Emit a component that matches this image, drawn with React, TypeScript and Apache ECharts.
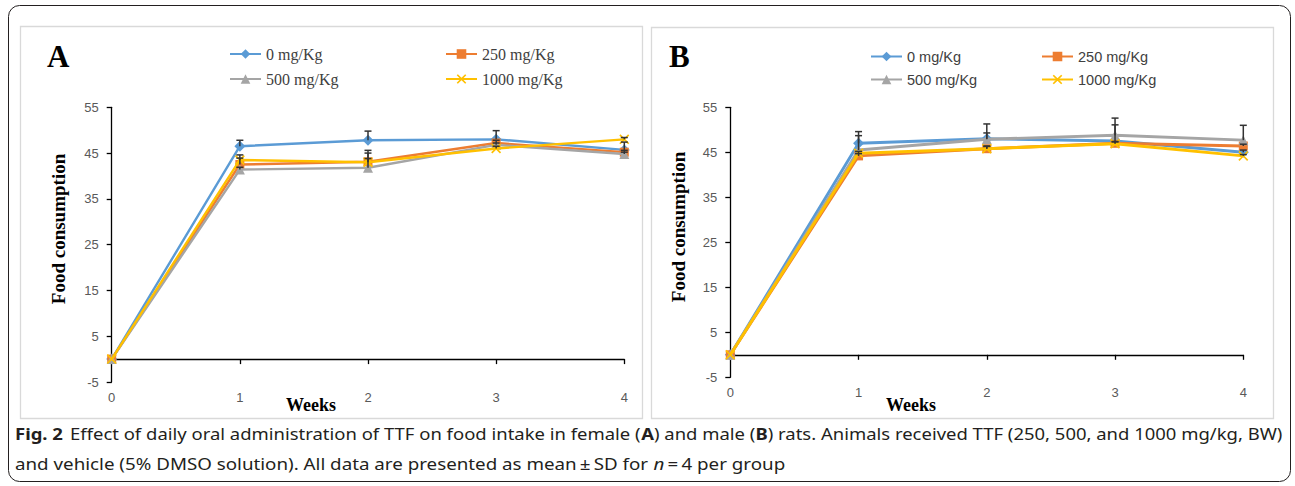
import React, { useEffect, useRef } from "react";
import * as echarts from "echarts";

// ---- data ----
const weeks = [0, 1, 2, 3, 4];
const seriesNames = ["0 mg/Kg", "250 mg/Kg", "500 mg/Kg", "1000 mg/Kg"];
const seriesColors = ["#5B9BD5", "#ED7D31", "#A5A5A5", "#FFC000"];
const yTicks = { min: -5, max: 55, interval: 10 };

// Panel A (female)
const femaleDose0 = [0, 46.5, 47.8, 48.0, 45.7];
const femaleDose250 = [0, 42.5, 43.1, 47.2, 45.2];
const femaleDose500 = [0, 41.4, 41.8, 46.8, 44.8];
const femaleDose1000 = [0, 43.5, 43.0, 46.0, 48.0];
const femaleSd0 = [0, 1.3, 2.0, 1.9, 1.7];
const femaleSd250 = [0, 2.1, 2.5, 0.6, 0.4];
const femaleSd500 = [0, 0.5, 3.2, 0.4, 0.4];
const femaleSd1000 = [0, 0.4, 0.8, 0.5, 0.4];

// Panel B (male)
const maleDose0 = [0, 47.0, 48.0, 47.5, 45.0];
const maleDose250 = [0, 44.2, 45.8, 47.0, 46.4];
const maleDose500 = [0, 45.5, 47.9, 48.8, 47.7];
const maleDose1000 = [0, 44.8, 45.8, 46.9, 44.2];
const maleSd0 = [0, 2.6, 3.3, 3.6, 0.5];
const maleSd250 = [0, 0.5, 0.6, 0.4, 0.4];
const maleSd500 = [0, 3.2, 1.4, 3.8, 3.3];
const maleSd1000 = [0, 0.4, 0.5, 0.4, 0.3];

const femaleValues = [femaleDose0, femaleDose250, femaleDose500, femaleDose1000];
const femaleSds = [femaleSd0, femaleSd250, femaleSd500, femaleSd1000];
const maleValues = [maleDose0, maleDose250, maleDose500, maleDose1000];
const maleSds = [maleSd0, maleSd250, maleSd500, maleSd1000];

const captionLine1 = [
  { t: "Effect of daily oral administration of TTF on food intake in female (", s: "n" },
  { t: "A", s: "b" },
  { t: ") and male (", s: "n" },
  { t: "B", s: "b" },
  { t: ") rats. Animals received TTF (250, 500, and 1000 mg/kg, BW)", s: "n" },
];
const captionLine2 = [
  { t: "and vehicle (5% DMSO solution). All data are presented as mean\u2009\u00b1\u2009SD for ", s: "n" },
  { t: "n", s: "i" },
  { t: "\u2009=\u20094 per group", s: "n" },
];

const W = 1295;
const H = 486;
const CAP_FONT = "'Noto Sans', 'Open Sans', sans-serif";
const CAP_SIZE = 16.5;

const xSymbol =
  "path://M0,1.2 L1.2,0 L5,3.8 L8.8,0 L10,1.2 L6.2,5 L10,8.8 L8.8,10 L5,6.2 L1.2,10 L0,8.8 L3.8,5 Z";
const symbols = ["diamond", "rect", "triangle", xSymbol];
const symbolSizes = [11, 9, 10, 10];

function measure(segs: { t: string; s: string }[]) {
  const ctx = document.createElement("canvas").getContext("2d");
  if (!ctx) return 1;
  let w = 0;
  for (const seg of segs) {
    const style = seg.s === "b" ? "bold " : seg.s === "i" ? "italic " : "";
    ctx.font = `${style}${CAP_SIZE}px ${CAP_FONT}`;
    w += ctx.measureText(seg.t).width;
  }
  return w;
}

function richText(segs: { t: string; s: string }[]) {
  return segs.map((seg) => `{${seg.s}|${seg.t}}`).join("");
}

const richStyles = {
  n: { fontFamily: CAP_FONT, fontSize: CAP_SIZE, color: "#231f20" },
  b: { fontFamily: CAP_FONT, fontSize: CAP_SIZE, fontWeight: "bold", color: "#231f20" },
  i: { fontFamily: CAP_FONT, fontSize: CAP_SIZE, fontStyle: "italic", color: "#231f20" },
};

export default function App() {
  const ref = useRef<HTMLDivElement>(null);

  useEffect(() => {
    document.body.style.margin = "0";
    if (!ref.current) return;
    const chart = echarts.init(ref.current, undefined, { renderer: "svg", width: W, height: H });

    const grids = [
      { left: 111.7, top: 107.3, width: 512.6, height: 274.7 },
      { left: 730.3, top: 107.3, width: 513, height: 270 },
    ];

    const axisLineStyle = { color: "#000000", width: 1.3 };
    const tickLabel = { color: "#595959", fontSize: 13, fontFamily: "'Liberation Sans', Arial, sans-serif" };

    const xBase = {
      type: "value",
      min: 0,
      max: 4,
      interval: 1,
      splitLine: { show: false },
    };

    const xAxes = [
      {
        ...xBase,
        gridIndex: 0,
        axisLine: { show: true, onZero: true, lineStyle: axisLineStyle },
        axisTick: { show: true, inside: false, length: 5, lineStyle: axisLineStyle },
        axisLabel: { show: false },
      },
      {
        ...xBase,
        gridIndex: 0,
        position: "bottom",
        axisLine: { show: false, onZero: false },
        axisTick: { show: false },
        axisLabel: { show: true, margin: 9, ...tickLabel },
      },
      {
        ...xBase,
        gridIndex: 1,
        axisLine: { show: true, onZero: true, lineStyle: axisLineStyle },
        axisTick: { show: true, inside: false, length: 5, lineStyle: axisLineStyle },
        axisLabel: { show: true, margin: 9, ...tickLabel },
      },
    ];

    const yAxes = [0, 1].map((g) => ({
      type: "value",
      gridIndex: g,
      min: yTicks.min,
      max: yTicks.max,
      interval: yTicks.interval,
      splitLine: { show: false },
      axisLine: { show: true, lineStyle: axisLineStyle },
      axisTick: { show: true, inside: false, length: 5, lineStyle: axisLineStyle },
      axisLabel: { show: true, margin: 13, ...tickLabel },
    }));

    const series: any[] = [];
    const panels = [
      { values: femaleValues, sds: femaleSds, xAxisIndex: 0, yAxisIndex: 0, lw: 2.4 },
      { values: maleValues, sds: maleSds, xAxisIndex: 2, yAxisIndex: 1, lw: 2.9 },
    ];
    panels.forEach((p) => {
      p.values.forEach((vals, i) => {
        series.push({
          type: "line",
          name: seriesNames[i],
          xAxisIndex: p.xAxisIndex,
          yAxisIndex: p.yAxisIndex,
          data: weeks.map((w, k) => [w, vals[k]]),
          symbol: symbols[i],
          symbolSize: symbolSizes[i],
          showAllSymbol: true,
          color: seriesColors[i],
          itemStyle: { color: seriesColors[i] },
          lineStyle: { color: seriesColors[i], width: p.lw },
          z: 2 + i * 0.01,
        });
      });
      const errData: number[][] = [];
      p.values.forEach((vals, i) => {
        weeks.forEach((w, k) => {
          if (p.sds[i][k] > 0) errData.push([w, vals[k], p.sds[i][k]]);
        });
      });
      series.push({
        type: "custom",
        name: "sd",
        xAxisIndex: p.xAxisIndex,
        yAxisIndex: p.yAxisIndex,
        data: errData,
        encode: { x: 0, y: 1 },
        z: 5,
        silent: true,
        renderItem: (params: any, api: any) => {
          const x = api.value(0);
          const y = api.value(1);
          const e = api.value(2);
          const p0 = api.coord([x, y]);
          const p1 = api.coord([x, y + e]);
          const st = { stroke: "#333333", lineWidth: 1.5 };
          return {
            type: "group",
            children: [
              { type: "line", shape: { x1: p0[0], y1: p0[1], x2: p1[0], y2: p1[1] }, style: st },
              { type: "line", shape: { x1: p1[0] - 3.5, y1: p1[1], x2: p1[0] + 3.5, y2: p1[1] }, style: st },
            ],
          };
        },
      });
    });

    const legendPos = [
      // panel A
      { left: 229, top: 46, idx: 0, panel: 0 },
      { left: 445, top: 46, idx: 1, panel: 0 },
      { left: 229, top: 71, idx: 2, panel: 0 },
      { left: 445, top: 71, idx: 3, panel: 0 },
      // panel B
      { left: 870, top: 49, idx: 0, panel: 1 },
      { left: 1041, top: 49, idx: 1, panel: 1 },
      { left: 870, top: 72, idx: 2, panel: 1 },
      { left: 1041, top: 72, idx: 3, panel: 1 },
    ];
    const legends = legendPos.map((l) => ({
      show: true,
      data: [seriesNames[l.idx]],
      left: l.left,
      top: l.top,
      padding: 0,
      itemWidth: 31,
      itemHeight: 12,
      itemGap: 0,
      selectedMode: false,
      textStyle:
        l.panel === 0
          ? { fontFamily: "'Liberation Serif', 'Times New Roman', serif", fontSize: 16, color: "#404040" }
          : { fontFamily: "'Liberation Sans', Arial, sans-serif", fontSize: 14.5, color: "#404040" },
    }));

    const w1 = measure(captionLine1);
    const w2 = measure(captionLine2);
    const wFig = measure([{ t: "Fig. 2", s: "b" }]);

    const serifBold = "'Liberation Serif', 'Times New Roman', serif";

    const graphic = [
      {
        type: "rect",
        shape: { x: 8.5, y: 5.5, width: 1282, height: 476, r: 11 },
        style: { fill: "none", stroke: "#231f20", lineWidth: 1 },
        z: 0,
      },
      {
        type: "rect",
        shape: { x: 20.5, y: 26.5, width: 622, height: 392 },
        style: { fill: "none", stroke: "#d9d9d9", lineWidth: 1.3 },
        z: 0,
      },
      {
        type: "rect",
        shape: { x: 651.5, y: 27.5, width: 622, height: 391 },
        style: { fill: "none", stroke: "#d9d9d9", lineWidth: 1.3 },
        z: 0,
      },
      {
        type: "text",
        x: 47,
        y: 56,
        style: { text: "A", fontFamily: serifBold, fontWeight: "bold", fontSize: 31, fill: "#000", verticalAlign: "middle" },
      },
      {
        type: "text",
        x: 669,
        y: 56,
        style: { text: "B", fontFamily: serifBold, fontWeight: "bold", fontSize: 31, fill: "#000", verticalAlign: "middle" },
      },
      {
        type: "text",
        x: 58,
        y: 229,
        rotation: Math.PI / 2,
        style: {
          text: "Food consumption",
          fontFamily: serifBold,
          fontWeight: "bold",
          fontSize: 19,
          fill: "#000",
          align: "center",
          verticalAlign: "middle",
        },
      },
      {
        type: "text",
        x: 678,
        y: 227,
        rotation: Math.PI / 2,
        style: {
          text: "Food consumption",
          fontFamily: serifBold,
          fontWeight: "bold",
          fontSize: 19,
          fill: "#000",
          align: "center",
          verticalAlign: "middle",
        },
      },
      {
        type: "text",
        x: 311,
        y: 405,
        style: { text: "Weeks", fontFamily: serifBold, fontWeight: "bold", fontSize: 18, fill: "#000", align: "center", verticalAlign: "middle" },
      },
      {
        type: "text",
        x: 911,
        y: 405,
        style: { text: "Weeks", fontFamily: serifBold, fontWeight: "bold", fontSize: 18, fill: "#000", align: "center", verticalAlign: "middle" },
      },
      {
        type: "text",
        x: 15,
        y: 433,
        scaleX: 48 / wFig,
        style: { text: "Fig. 2", fontFamily: CAP_FONT, fontWeight: "bold", fontSize: CAP_SIZE, fill: "#231f20", verticalAlign: "middle" },
      },
      {
        type: "text",
        x: 70,
        y: 433,
        scaleX: 1213 / w1,
        style: { text: richText(captionLine1), rich: richStyles, verticalAlign: "middle", fill: "#231f20" },
      },
      {
        type: "text",
        x: 15,
        y: 463,
        scaleX: 770 / w2,
        style: { text: richText(captionLine2), rich: richStyles, verticalAlign: "middle", fill: "#231f20" },
      },
    ];

    chart.setOption({
      animation: false,
      backgroundColor: "#ffffff",
      grid: grids,
      xAxis: xAxes,
      yAxis: yAxes,
      legend: legends,
      series,
      graphic,
    });

    return () => {
      chart.dispose();
    };
  }, []);

  return <div ref={ref} style={{ width: W, height: H }} />;
}
